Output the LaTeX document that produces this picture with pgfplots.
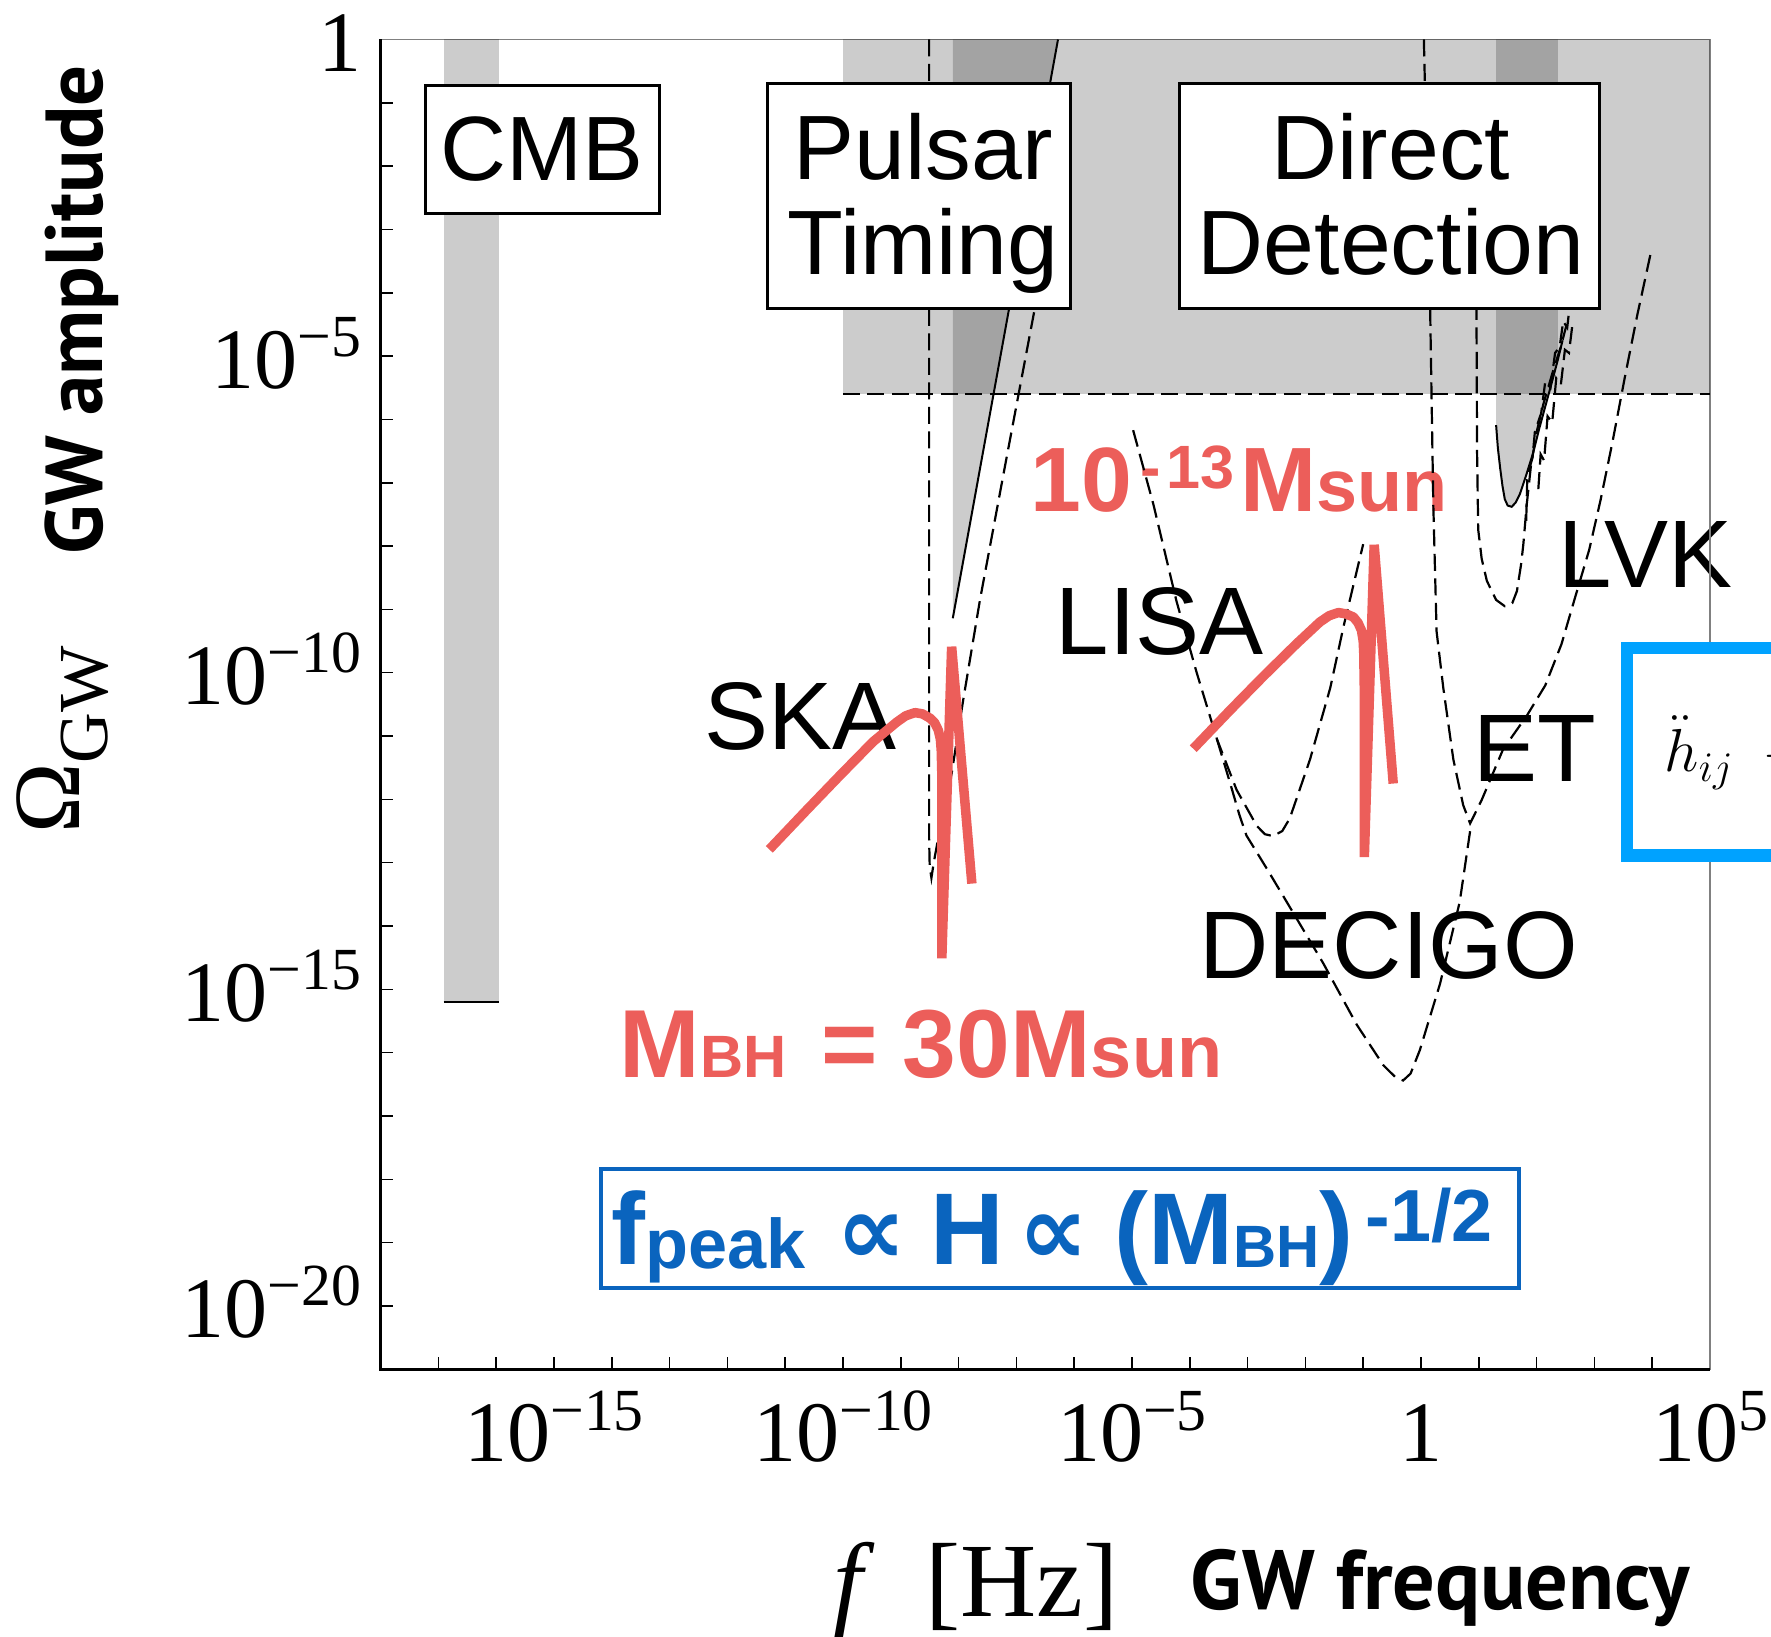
\documentclass[border=0pt]{standalone}
\usepackage{fontspec}
\setmainfont{Liberation Serif}
\newfontfamily\lsans{Liberation Sans}
\newfontfamily\ptsans{PT Sans}
\newfontfamily\dejavu{DejaVu Sans}
\usepackage{pgfplots}
\pgfplotsset{compat=1.18}
\definecolor{myred}{RGB}{236,94,90}
\definecolor{myblue}{RGB}{10,100,190}
\definecolor{skyblue}{RGB}{0,162,255}
\newcommand{\fs}[1]{\fontsize{#1}{#1}\selectfont}
\newcommand{\tlab}[1]{10\raisebox{3.2mm}{\fs{17}#1}}
\tikzset{dsh/.style={black, line width=0.22mm, dash pattern=on 1.7mm off 0.75mm}}
\begin{document}
\begin{tikzpicture}
\useasboundingbox (0,0) rectangle (177.1mm,163.7mm);
\clip (0,0) rectangle (177.1mm,163.7mm);
% ---------- labels under the curves ----------
\begin{scope}[x=0.1mm,y=-0.1mm,shift={(0mm,163.7mm)}]
\node[rotate=90, anchor=base, inner sep=0pt, font=\ptsans\bfseries\fs{23}] at (103,310) {GW amplitude};
\node[rotate=90, anchor=base, inner sep=0pt, font=\fs{27}] at (80,740) {Ω\raisebox{-2.7mm}{\fs{20}GW}};
\node[anchor=base west, inner sep=0pt, font=\fs{30}] at (833,1617) {\textit{f}\hspace{5mm}[Hz]};
\node[anchor=base west, inner sep=0pt, font=\ptsans\bfseries\fs{24}] at (1190,1610) {GW frequency};
\node[anchor=base west, inner sep=0pt, font=\lsans\fs{27.3}] at (704,750) {SKA};
\node[anchor=base west, inner sep=0pt, font=\lsans\fs{27.3}] at (1055,655) {LISA};
\node[anchor=base west, inner sep=0pt, font=\lsans\fs{27.3}] at (1558,588) {LVK};
\node[anchor=base west, inner sep=0pt, font=\lsans\fs{27.3}] at (1473,782) {ET};
\node[anchor=base west, inner sep=0pt, font=\lsans\fs{27.3}] at (1199,978.6) {DECIGO};
\node[anchor=base west, inner sep=0pt, text=myred, font=\lsans\bfseries\fs{26}] at (1030,511.7) {10\hspace{0.8mm}\raisebox{2.27mm}{\fs{17.4}-\hspace{0.6mm}13}\hspace{0.6mm}M{\fs{21}sun}};
\node[anchor=base west, inner sep=0pt, text=myred, font=\lsans\bfseries\fs{27.5}] at (619,1078) {M{\fs{17}BH}\hspace{3.5mm}=\hspace{2.5mm}30M{\fs{21}sun}};
% blue relation box
\draw[myblue, line width=0.45mm] (601,1169) rectangle (1519,1288);
\node[anchor=base west, inner sep=0pt, text=myblue, font=\lsans\bfseries\fs{29}] at (611,1265) {f\raisebox{-0.37mm}{\fs{20}peak}};
\node[inner sep=0pt, text=myblue, font=\dejavu\bfseries\fs{28}] at (871.5,1240) {∝};
\node[anchor=base west, inner sep=0pt, text=myblue, font=\lsans\bfseries\fs{29}] at (930,1265) {H};
\node[inner sep=0pt, text=myblue, font=\dejavu\bfseries\fs{28}] at (1053.5,1240) {∝};
\node[anchor=base west, inner sep=0pt, text=myblue, font=\lsans\bfseries\fs{29}] at (1114,1265) {(M\raisebox{-0.3mm}{\fs{17}BH})\hspace{1.2mm}\raisebox{2.33mm}{\fs{21}-1/2}};
\end{scope}
% ---------- axis ----------
\begin{axis}[
  at={(38.06mm,26.77mm)}, anchor=south west,
  scale only axis, width=132.94mm, height=132.98mm,
  xmode=log, ymode=log,
  xmin=1e-18, xmax=1e5, ymin=1e-21, ymax=1,
  xtick={1e-15,1e-10,1e-5,1,1e5},
  xticklabels={\tlab{−15},\tlab{−10},\tlab{−5},1,\tlab{5}},
  minor xtick={1e-17,1e-16,1e-14,1e-13,1e-12,1e-11,1e-9,1e-8,1e-7,1e-6,1e-4,1e-3,1e-2,1e-1,1e1,1e2,1e3,1e4},
  ytick={1e-20,1e-15,1e-10,1e-5,1},
  yticklabels={\tlab{−20},\tlab{−15},\tlab{−10},\tlab{−5},1},
  minor ytick={1e-19,1e-18,1e-17,1e-16,1e-14,1e-13,1e-12,1e-11,1e-9,1e-8,1e-7,1e-6,1e-4,1e-3,1e-2,1e-1},
  xtick pos=bottom, ytick pos=left, tick align=inside,
  major tick length=1.27mm, minor tick length=1.27mm,
  tick style={black, line width=0.15mm},
  axis line style={draw=gray, line width=0.15mm},
  tick label style={font=\fs{24.5}, inner sep=0pt},
  xticklabel style={anchor=base, yshift=-9.27mm},
  yticklabel style={anchor=base east, xshift=-1.86mm, yshift=-3.2mm},
  clip=true,
]
% gray regions
\addplot[draw=none, fill=black, fill opacity=0.2] coordinates {(1e-10,2.512e-6) (1e5,2.512e-6) (1e5,1) (1e-10,1)} -- cycle;
\addplot[draw=none, fill=black, fill opacity=0.2] coordinates {(7.943e-9,1) (7.943e-9,7.244e-10) (5.248e-7,1)} -- cycle;
\addplot[draw=none, fill=black, fill opacity=0.2] coordinates {(19.95,1) (19.95,8.128e-7) (21.38,3.548e-7) (23.44,1.698e-7) (25.70,8.913e-8) (28.18,5.495e-8) (31.62,4.365e-8) (37.15,4.169e-8) (43.65,4.898e-8) (51.29,6.607e-8) (66.07,1.318e-7) (87.10,2.951e-7) (112.2,7.413e-7) (147.9,1.862e-6) (190.5,4.365e-6) (234.4,8.913e-6) (234.4,1)} -- cycle;
\addplot[draw=none, fill=black, fill opacity=0.2] coordinates {(1.230e-17,6.310e-16) (1.122e-16,6.310e-16) (1.122e-16,1) (1.230e-17,1)} -- cycle;
% solid lines
\addplot[black, line width=0.2mm] coordinates {(1.230e-17,6.310e-16) (1.122e-16,6.310e-16)};
\addplot[black, line width=0.2mm] coordinates {(7.943e-9,7.244e-10) (5.248e-7,1)};
\addplot[black, line width=0.2mm] coordinates {(19.95,8.128e-7) (21.38,3.548e-7) (23.44,1.698e-7) (25.70,8.913e-8) (28.18,5.495e-8) (31.62,4.365e-8) (37.15,4.169e-8) (43.65,4.898e-8) (51.29,6.607e-8) (66.07,1.318e-7) (87.10,2.951e-7) (112.2,7.413e-7) (147.9,1.862e-6) (190.5,4.365e-6) (234.4,8.913e-6) (281.8,1.778e-5)};
% dashed sensitivity curves
\addplot[dsh] coordinates {(1e-10,2.512e-6) (1e5,2.512e-6)};
\addplot[dsh] coordinates {(3.090e-9,1) (3.090e-9,2.512e-13) (3.162e-9,8.913e-14) (3.388e-9,5.754e-14) (3.715e-9,1e-13) (5.012e-9,4.467e-13) (7.586e-9,2.570e-12) (1.202e-8,3.715e-11) (2.344e-8,1.413e-9) (6.310e-8,1.778e-7) (2.089e-7,5.754e-5) (4.677e-7,3.162e-3)};
\addplot[dsh] coordinates {(1.047e-5,6.761e-7) (2.344e-5,4.571e-8) (5.888e-5,1.349e-9) (1.318e-4,1e-10) (2.951e-4,8.913e-12) (6.457e-4,1.413e-12) (1.445e-3,3.802e-13) (1.995e-3,2.818e-13) (2.754e-3,2.630e-13) (3.981e-3,3.162e-13) (5.370e-3,5.012e-13) (1.202e-2,4.266e-12) (2.692e-2,5.754e-11) (4.571e-2,5.370e-10) (7.762e-2,4.074e-9) (0.1,1.072e-8)};
\addplot[dsh] coordinates {(2.951e-4,8.913e-12) (5.012e-4,1.778e-12) (7.244e-4,5.623e-13) (9.550e-4,2.692e-13) (2.239e-3,7.586e-14) (5.370e-3,1.995e-14) (2.042e-2,2.570e-15) (7.762e-2,2.754e-16) (0.2239,6.310e-17) (0.3548,4.169e-17) (0.4898,3.631e-17) (0.6607,4.677e-17) (0.9550,1.096e-16) (2.138,1.230e-15) (4.677,2.399e-14) (7.079,3.162e-13)};
\addplot[dsh] coordinates {(1.122,1) (1.259,1e-2) (1.432,7.762e-5) (1.633,4.571e-8) (1.862,4.467e-10) (2.432,5.754e-11) (3.631,4.266e-12) (5.370,8.128e-13) (7.079,4.169e-13) (11.22,9.772e-13) (26.30,6.166e-12) (67.61,2.089e-11) (141.3,6.310e-11) (269.2,2.818e-10) (457.1,1.479e-9) (812.8,8.710e-9) (1288,5.495e-8) (2042,4.266e-7) (3388,4.786e-6) (5495,4.365e-5) (9772,4.898e-4)};
\addplot[dsh] coordinates {(9.016,1e-3) (9.120,5.370e-5) (9.333,3.162e-7) (9.772,1.820e-8) (11.22,6.310e-9) (13.80,2.818e-9) (19.95,1.413e-9) (28.18,1.122e-9) (38.02,1.259e-9) (45.71,1.950e-9) (53.70,5.012e-9) (58.88,1.047e-8) (67.61,4.571e-8) (79.43,1.778e-7) (100,6.310e-7) (131.8,1.778e-6) (190.5,5.623e-6) (263.0,1.413e-5) (331.1,3.162e-5)};
\addplot[dsh] coordinates {(66.07,2.512e-8) (69.18,1.259e-7) (85.11,2.512e-7) (93.33,6.310e-7) (120.2,1.259e-6) (141.3,3.981e-6) (173.8,3.162e-6) (208.9,1.122e-5) (251.2,1.413e-5) (288.4,3.548e-5) (338.8,2.818e-5) (380.2,7.079e-5)};
\addplot[dsh] coordinates {(107.2,7.943e-8) (117.5,2.818e-7) (134.9,2.239e-7) (154.9,1.122e-6) (186.2,8.913e-7) (218.8,4.467e-6) (263.0,3.548e-6) (309.0,1.259e-5) (363.1,1.122e-5) (416.9,3.162e-5)};
% red GW spectra
\addplot[myred, line width=0.95mm, line join=bevel] coordinates {(5.309e-12,1.622e-13) (2.344e-11,6.761e-13) (8.913e-11,2.399e-12) (3.311e-10,8.128e-12) (8.511e-10,1.660e-11) (1.216e-9,2.089e-11) (1.758e-9,2.344e-11) (2.371e-9,2.239e-11) (3.236e-9,1.905e-11) (3.846e-9,1.622e-11) (4.467e-9,1.230e-11) (4.842e-9,8.913e-12) (5.012e-9,5.888e-12) (5.129e-9,2.512e-12) (5.129e-9,3.162e-13) (5.129e-9,3.090e-15) (7.586e-9,2.570e-10) (1.698e-8,4.677e-14)};
\addplot[myred, line width=0.95mm, line join=bevel] coordinates {(1.148e-4,6.310e-12) (5.012e-4,2.570e-11) (1.862e-3,8.710e-11) (7.079e-3,2.884e-10) (1.778e-2,6.310e-10) (2.570e-2,7.943e-10) (3.715e-2,8.913e-10) (5.012e-2,8.511e-10) (6.761e-2,7.586e-10) (8.128e-2,6.166e-10) (9.333e-2,4.677e-10) (0.1,3.162e-10) (0.1023,2.042e-10) (0.1047,5.012e-11) (0.1047,1.230e-13) (0.1549,1.047e-8) (0.3311,1.778e-12)};
\end{axis}
% ---------- boxes on top ----------
\begin{scope}[x=0.1mm,y=-0.1mm,shift={(0mm,163.7mm)}]
\draw[black, line width=0.25mm] (380.6,39.5) -- (380.6,1369.3) -- (1710,1369.3);
\draw[black, line width=0.3mm, fill=white] (425.3,86) rectangle (659.4,214);
\node[inner sep=0pt, font=\lsans\fs{26}] at (542,149) {CMB};
\draw[black, line width=0.3mm, fill=white] (767.7,83.3) rectangle (1070.6,308.3);
\node[anchor=base, inner sep=0pt, font=\lsans\fs{26}] at (923,180) {Pulsar};
\node[anchor=base, inner sep=0pt, font=\lsans\fs{26}] at (923,275) {Timing};
\draw[black, line width=0.3mm, fill=white] (1179.7,83.3) rectangle (1599.7,308.3);
\node[anchor=base, inner sep=0pt, font=\lsans\fs{26}] at (1391,180) {Direct};
\node[anchor=base, inner sep=0pt, font=\lsans\fs{26}] at (1391,275) {Detection};
\draw[skyblue, line width=1.27mm, fill=white] (1627,648) rectangle (1950,855.5);
\node[anchor=base west, inner sep=0pt, font=\fs{18}] at (1664,772) {$\ddot{h}_{ij}\;+\;3H\dot{h}_{ij}$};
\end{scope}
\end{tikzpicture}
\end{document}
